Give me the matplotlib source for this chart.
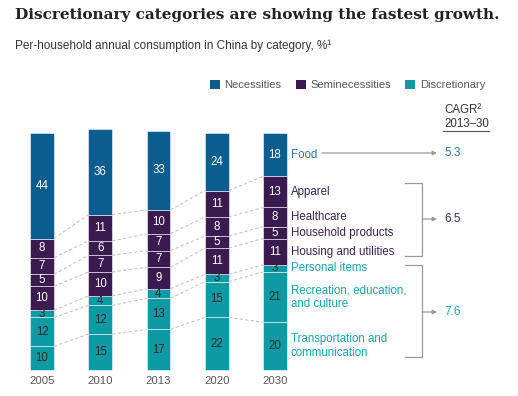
import numpy as np
import matplotlib.pyplot as plt
from matplotlib.patches import Patch

plt.rcParams['font.family'] = ['Liberation Sans', 'DejaVu Sans']

years = ['2005', '2010', '2013', '2020', '2030']

# segments from the bottom of each bar to the top
categories = ['Transportation and\ncommunication', 'Recreation, education,\nand culture',
              'Personal items', 'Housing and utilities', 'Household products',
              'Healthcare', 'Apparel', 'Food']
transport = [10, 15, 17, 22, 20]
recreation = [12, 12, 13, 15, 21]
personal = [3, 4, 4, 3, 3]
housing = [10, 10, 9, 11, 11]
household = [5, 7, 7, 5, 5]
healthcare = [7, 6, 7, 8, 8]
apparel = [8, 11, 10, 11, 13]
food = [44, 36, 33, 24, 18]
series = [transport, recreation, personal, housing, household, healthcare, apparel, food]
groups = ['Discretionary'] * 3 + ['Seminecessities'] * 4 + ['Necessities']

legend_groups = ['Necessities', 'Seminecessities', 'Discretionary']
cagr = {'Necessities': '5.3', 'Seminecessities': '6.5', 'Discretionary': '7.6'}

bar_col = {'Necessities': '#0b5d8e', 'Seminecessities': '#3b1b4f', 'Discretionary': '#0d9aa5'}
lab_col = {'Necessities': '#2579b4', 'Seminecessities': '#3d2352', 'Discretionary': '#1aa4ae'}
num_col = {'Necessities': 'white', 'Seminecessities': 'white', 'Discretionary': '#2a2a2a'}

W, H = 518, 396
fig = plt.figure(figsize=(W / 100, H / 100), dpi=100)

# overlay in pixel coordinates for brackets and arrows
ov = fig.add_axes([0, 0, 1, 1])
ov.set_xlim(0, W)
ov.set_ylim(H, 0)
ov.axis('off')

ax = fig.add_axes([13 / W, 26 / H, 291 / W, 239 / H])
x = np.arange(len(years))
w = 0.41
bottom = np.zeros(len(years))
tops = []
label_y = []
for vals, grp in zip(series, groups):
    vals = np.array(vals)
    ax.bar(x, vals, w, bottom=bottom, color=bar_col[grp],
           edgecolor=(1, 1, 1, 0.55), linewidth=0.7, clip_on=False)
    for xi, b, v in zip(x, bottom, vals):
        ax.text(xi, b + v / 2, str(v), ha='center', va='center',
                fontsize=8.3, color=num_col[grp])
    label_y.append(bottom[-1] + vals[-1] / 2)
    bottom = bottom + vals
    tops.append(bottom.copy())

# dashed connectors between segment boundaries
for t in tops[:-1]:
    for i in range(len(x) - 1):
        ax.plot([x[i] + w / 2, x[i + 1] - w / 2], [t[i], t[i + 1]],
                color='#c6c6c6', lw=0.8, dashes=(3, 2), zorder=0)

# category labels to the right of the 2030 bar
for cat, grp, yy in zip(categories, groups, label_y):
    ax.text(x[-1] + w / 2 + 0.07, yy, cat, ha='left', va='center',
            fontsize=8.3, color=lab_col[grp], linespacing=1.15)

ax.set_xlim(-0.5, 4.5)
ax.set_ylim(0, 100)
ax.set_xticks(x, years)
ax.tick_params(length=0, pad=4, labelsize=8.2, labelcolor='#555555')
ax.set_yticks([])
for s in ax.spines.values():
    s.set_visible(False)
ax.patch.set_visible(False)

# arrows and brackets
arrow = dict(arrowstyle='-|>', color='#9a9a9a', lw=0.9, mutation_scale=6,
             shrinkA=0, shrinkB=0)
ov.annotate('', xy=(437, 153), xytext=(322, 153), arrowprops=arrow)
ov.plot([405, 422, 422, 405], [183, 183, 256, 256], color='#9a9a9a', lw=0.9)
ov.annotate('', xy=(437, 219), xytext=(422, 219), arrowprops=arrow)
ov.plot([405, 422, 422, 405], [265, 265, 357, 357], color='#9a9a9a', lw=0.9)
ov.annotate('', xy=(437, 312), xytext=(422, 312), arrowprops=arrow)
for grp, yy in zip(legend_groups, [153, 219, 312]):
    ov.text(444, yy, cagr[grp], ha='left', va='center', fontsize=8.5, color=lab_col[grp])

ov.text(444, 110, 'CAGR²', ha='left', va='center', fontsize=8.3, color='#333333')
ov.text(444, 124, '2013–30', ha='left', va='center', fontsize=8.3, color='#333333')
ov.plot([443, 489], [131, 131], color='#555555', lw=0.8)

# titles
fig.text(15 / W, 1 - 15 / H, 'Discretionary categories are showing the fastest growth.',
         fontfamily='DejaVu Serif', fontweight='bold', fontsize=11.0,
         color='#222222', va='center', ha='left')
fig.text(15 / W, 1 - 46 / H, 'Per-household annual consumption in China by category, %¹',
         fontsize=8.5, color='#333333', va='center', ha='left')

handles = [Patch(facecolor=bar_col[g], label=g) for g in legend_groups]
fig.legend(handles=handles, loc='center left', bbox_to_anchor=(210 / W, 1 - 85 / H),
           ncol=3, frameon=False, fontsize=8, handlelength=0.9, handleheight=0.9,
           handletextpad=0.4, columnspacing=1.3, borderpad=0, borderaxespad=0,
           labelcolor='#555555')

fig.savefig('out.png', dpi=100)
